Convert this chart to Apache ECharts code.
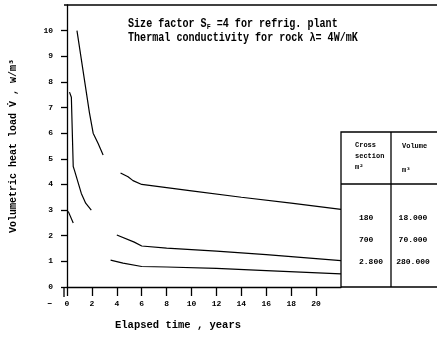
<!DOCTYPE html>
<html>
<head>
<meta charset="utf-8">
<script src="https://cdn.jsdelivr.net/npm/echarts@6/dist/echarts.min.js"></script>
<style>
  html, body { margin: 0; padding: 0; background: #fff; }
  #chart { width: 437px; height: 341px; }
</style>
</head>
<body>
<div id="chart"></div>
<script>
// elapsed time (years) and volumetric heat load (W/m3), null = gap in the curve
var years180 = [0.8, 1.8, 2.1, 2.5, 2.9, 3.6, 4.3, 4.9, 5.3, 6, 10, 14, 18, 22]
var load180 = [10.0, 6.8, 6.0, 5.6, 5.15, null, 4.45, 4.3, 4.15, 4.0, 3.75, 3.5, 3.27, 3.03]
var years700 = [0.2, 0.35, 0.5, 0.6, 1.15, 1.5, 1.95, 3.0, 4.0, 5.4, 6.0, 8, 12, 16, 22]
var load700 = [7.6, 7.4, 4.7, 4.55, 3.65, 3.27, 3.0, null, 2.03, 1.75, 1.6, 1.52, 1.4, 1.26, 1.03]
var years2800 = [0.1, 0.5, 2.0, 3.5, 4.5, 6, 8, 12, 16, 22]
var load2800 = [2.95, 2.5, null, 1.05, 0.93, 0.8, 0.78, 0.73, 0.64, 0.51]

var xTicks = [0, 2, 4, 6, 8, 10, 12, 14, 16, 18, 20]
var yTicks = [0, 1, 2, 3, 4, 5, 6, 7, 8, 9, 10]

var tableCross = ['180', '700', '2.800']
var tableVolume = ['18.000', '70.000', '280.000']

function pairs(xs, ys) {
    return xs.map(function (x, i) { return [x, ys[i]] })
}

var myChart = echarts.init(document.getElementById('chart'))

var mono = '"Liberation Mono", "DejaVu Sans Mono", monospace'
var lineStyle = { color: '#000', width: 1.3 }

var graphics = [
    // top frame line
    { type: 'line', shape: { x1: 64, y1: 5, x2: 437, y2: 5 }, style: { stroke: '#000', lineWidth: 1.3 } },
    // y axis extends a bit below x axis
    { type: 'line', shape: { x1: 64, y1: 287, x2: 64, y2: 297 }, style: { stroke: '#000', lineWidth: 1.3 } },
    {
        type: 'text', x: 128, y: 16, scaleX: 0.84, originX: 0,
        style: {
            text: 'Size factor S{sub|F} =4 for refrig. plant',
            font: 'bold 12px ' + mono, fill: '#000',
            rich: { sub: { fontSize: 8, fontWeight: 'bold', fontFamily: mono, padding: [7, 0, 0, 0] } }
        }
    },
    {
        type: 'text', x: 128, y: 32, scaleX: 0.84, originX: 0,
        style: { text: 'Thermal conductivity for rock λ= 4W/mK', font: 'bold 12px ' + mono, fill: '#000' }
    },
    { type: 'text', left: 47, top: 299, style: { text: '–', font: 'bold 9px ' + mono, fill: '#000' } },
    // table
    { type: 'rect', shape: { x: 341, y: 132, width: 110, height: 155 }, style: { fill: 'none', stroke: '#000', lineWidth: 1.3 } },
    { type: 'line', shape: { x1: 341, y1: 184, x2: 437, y2: 184 }, style: { stroke: '#000', lineWidth: 1.3 } },
    { type: 'line', shape: { x1: 391, y1: 132, x2: 391, y2: 287 }, style: { stroke: '#000', lineWidth: 1.3 } },
    { type: 'text', left: 355, top: 140, style: { text: 'Cross\nsection\nm²', font: 'bold 7px ' + mono, lineHeight: 11, fill: '#000' } },
    { type: 'text', left: 402, top: 140, style: { text: 'Volume\n\nm³', font: 'bold 7px ' + mono, lineHeight: 12, fill: '#000' } }
]

var rowY = [218, 240, 262]
rowY.forEach(function (y, i) {
    graphics.push({ type: 'text', x: 359, y: y, style: { text: tableCross[i], font: 'bold 8px ' + mono, fill: '#000', align: 'left', verticalAlign: 'middle' } })
    graphics.push({ type: 'text', x: 413, y: y, style: { text: tableVolume[i], font: 'bold 8px ' + mono, fill: '#000', align: 'center', verticalAlign: 'middle' } })
})

var option = {
    animation: false,
    backgroundColor: '#fff',
    grid: { left: 64, top: 5, right: 96, bottom: 54, containLabel: false },
    xAxis: {
        type: 'value',
        min: 0,
        max: 22,
        interval: 2,
        name: 'Elapsed time , years',
        nameLocation: 'middle',
        nameGap: 33,
        nameTextStyle: { color: '#000', fontFamily: mono, fontWeight: 'bold', fontSize: 10.5, padding: [0, 52, 0, 0] },
        axisLine: { lineStyle: lineStyle },
        axisTick: { show: true, length: 9, lineStyle: lineStyle, customValues: xTicks },
        axisLabel: { color: '#000', fontFamily: mono, fontWeight: 'bold', fontSize: 8, margin: 13, customValues: xTicks },
        splitLine: { show: false }
    },
    yAxis: {
        type: 'value',
        min: 0,
        max: 11,
        interval: 1,
        name: 'Volumetric heat load V̇ , w/m³',
        nameLocation: 'middle',
        nameGap: 49,
        nameRotate: 90,
        nameTextStyle: { color: '#000', fontFamily: mono, fontWeight: 'bold', fontSize: 10 },
        axisLine: { lineStyle: lineStyle },
        axisTick: { show: true, length: 6, lineStyle: lineStyle, customValues: yTicks },
        axisLabel: { color: '#000', fontFamily: mono, fontWeight: 'bold', fontSize: 8, margin: 14, customValues: yTicks },
        splitLine: { show: false }
    },
    graphic: graphics,
    series: [
        { type: 'line', data: pairs(years180, load180), showSymbol: false, lineStyle: { color: '#000', width: 1.2 } },
        { type: 'line', data: pairs(years700, load700), showSymbol: false, lineStyle: { color: '#000', width: 1.2 } },
        { type: 'line', data: pairs(years2800, load2800), showSymbol: false, lineStyle: { color: '#000', width: 1.2 } }
    ]
}

myChart.setOption(option)
</script>
</body>
</html>
